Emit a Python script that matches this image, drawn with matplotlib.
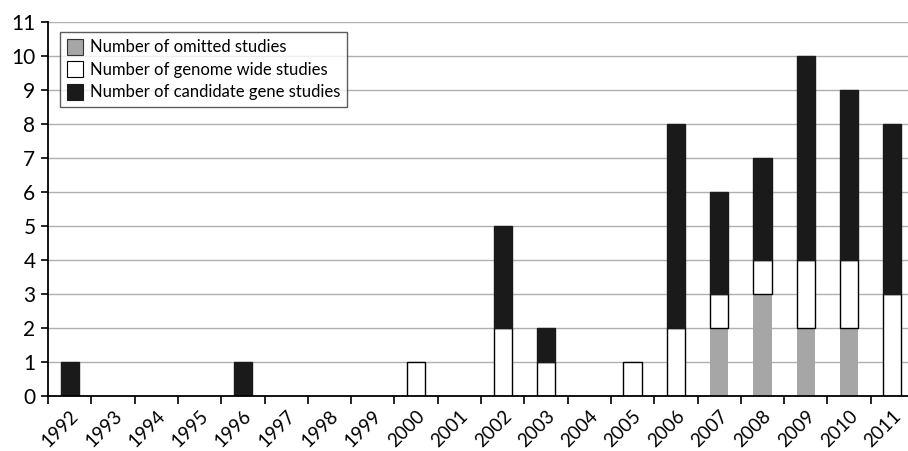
import numpy as np
import matplotlib
matplotlib.use('Agg')
import matplotlib.pyplot as plt
from matplotlib.patches import Patch

plt.rcParams['font.family'] = ['Lato', 'DejaVu Sans']

years = [str(y) for y in range(1992, 2012)]
omitted = [0, 0, 0, 0, 0, 0, 0, 0, 0, 0, 0, 0, 0, 0, 0, 2, 3, 2, 2, 0]
genome_wide = [0, 0, 0, 0, 0, 0, 0, 0, 1, 0, 2, 1, 0, 1, 2, 1, 1, 2, 2, 3]
candidate = [1, 0, 0, 0, 1, 0, 0, 0, 0, 0, 3, 1, 0, 0, 6, 3, 3, 6, 5, 5]

grey = '#a6a6a6'
black = '#1a1a1a'

fig = plt.figure(figsize=(9.08, 4.51), dpi=100)
ax = fig.add_axes([48 / 908, 55 / 451, 866 / 908, 374 / 451])

x = np.arange(len(years))
om = np.array(omitted)
gw = np.array(genome_wide)
cg = np.array(candidate)
w = 0.42

ax.bar(x, om, w, color=grey, edgecolor='none', zorder=3)
gw_x = x[gw > 0]
ax.bar(gw_x, gw[gw > 0], w, bottom=om[gw > 0], color='white',
       edgecolor='black', linewidth=1.0, zorder=3)
ax.bar(x[cg > 0], cg[cg > 0], w, bottom=(om + gw)[cg > 0], color=black,
       edgecolor=black, linewidth=1.0, zorder=3)

ax.set_xlim(-0.5, len(years) - 0.5)
ax.set_ylim(0, 11)
ax.set_yticks(range(0, 12))
ax.grid(axis='y', color='#b0b0b0', linewidth=1.0, zorder=0)

ax.set_xticks(np.arange(-0.5, len(years), 1.0))
ax.set_xticklabels([])
ax.set_xticks(x, minor=True)
ax.set_xticklabels(years, minor=True, rotation=45, ha='right',
                   rotation_mode='anchor', fontsize=13.5)
ax.tick_params(axis='x', which='minor', length=0, pad=8)
ax.tick_params(axis='x', which='major', length=6, width=1.2, direction='out')
ax.tick_params(axis='y', length=5, width=1.2, labelsize=15, pad=4)

for s in ['top', 'right']:
    ax.spines[s].set_visible(False)
for s in ['left', 'bottom']:
    ax.spines[s].set_linewidth(1.3)
    ax.spines[s].set_zorder(4)

handles = [Patch(facecolor=grey, edgecolor='#333333', linewidth=0.8),
           Patch(facecolor='white', edgecolor='black', linewidth=0.8),
           Patch(facecolor=black, edgecolor=black, linewidth=0.8)]
labels = ['Number of omitted studies', 'Number of genome wide studies',
          'Number of candidate gene studies']
leg = ax.legend(handles, labels, loc='upper left', bbox_to_anchor=(0.014, 0.973),
                fontsize=12, frameon=True, fancybox=False, handlelength=1.0,
                handleheight=1.1, handletextpad=0.4, labelspacing=0.35,
                borderpad=0.4, borderaxespad=0)
leg.get_frame().set_edgecolor('#333333')
leg.get_frame().set_linewidth(1.0)
leg.set_zorder(5)

plt.savefig('out.png', dpi=100)
